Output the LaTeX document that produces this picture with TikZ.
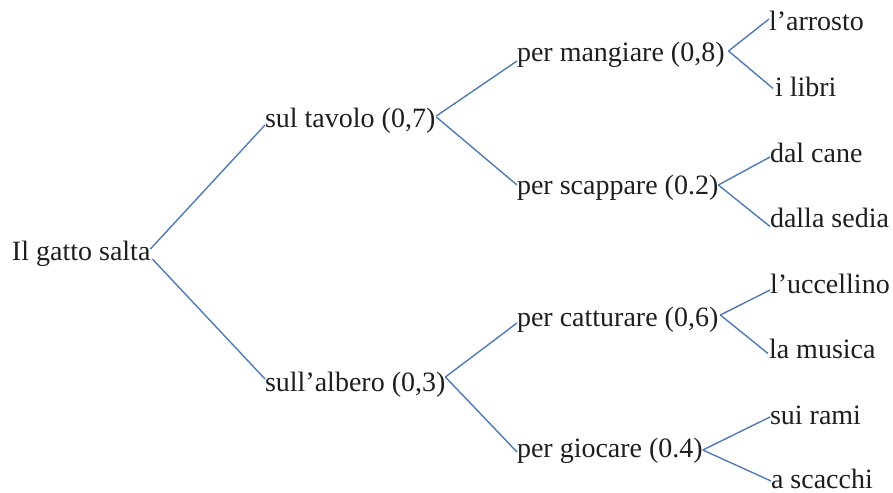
\documentclass[tikz,border=0pt]{standalone}
\usepackage{fontspec}
\setmainfont{Liberation Serif}
\definecolor{linkblue}{RGB}{78,122,184}
\definecolor{txt}{RGB}{30,30,30}
\begin{document}
\begin{tikzpicture}[x=1pt,y=-1pt,
  lbl/.style={anchor=base west,inner sep=0pt,outer sep=0pt,text=txt,font=\fontsize{28}{33}\selectfont},
  link/.style={draw=linkblue,line width=1.4pt}]
\useasboundingbox (0,0) rectangle (893,492);
% nodes
\node[lbl] (root) at (12,260) {Il gatto salta};
\node[lbl] (t) at (265,127) {sul tavolo (0,7)};
\node[lbl] (a) at (265,391) {sull’albero (0,3)};
\node[lbl] (tm) at (517,62) {per mangiare (0,8)};
\node[lbl] (ts) at (517,194) {per scappare (0.2)};
\node[lbl] (ac) at (517,326) {per catturare (0,6)};
\node[lbl] (ag) at (517,457) {per giocare (0.4)};
\node[lbl] (l1) at (769,31) {l’arrosto};
\node[lbl] (l2) at (775,96.5) {i libri};
\node[lbl] (l3) at (770,162) {dal cane};
\node[lbl] (l4) at (770,227.5) {dalla sedia};
\node[lbl] (l5) at (770,293) {l’uccellino};
\node[lbl] (l6) at (769,358.5) {la musica};
\node[lbl] (l7) at (770,424) {sui rami};
\node[lbl] (l8) at (771,488) {a scacchi};
% connectors
\draw[link] ([yshift=11pt]root.base east) -- ([yshift=2pt]t.base west);
\draw[link] ([yshift=1pt,xshift=2pt]root.base east) -- ([yshift=12pt]a.base west);
\draw[link] ([yshift=11pt,xshift=1pt]t.base east) -- ([yshift=1pt]tm.base west);
\draw[link] ([yshift=10pt,xshift=1pt]t.base east) -- ([yshift=9pt]ts.base west);
\draw[link] ([yshift=14pt]a.base east) -- ([yshift=3pt]ac.base west);
\draw[link] ([yshift=14pt]a.base east) -- ([yshift=5pt]ag.base west);
\draw[link] ([yshift=11pt,xshift=4pt]tm.base east) -- ([yshift=12pt]l1.base west);
\draw[link] ([yshift=11pt,xshift=4pt]tm.base east) -- ([yshift=8pt,xshift=-2pt]l2.base west);
\draw[link] ([yshift=9pt]ts.base east) -- ([yshift=5pt]l3.base west);
\draw[link] ([yshift=9pt]ts.base east) -- ([yshift=1pt]l4.base west);
\draw[link] ([yshift=11pt,xshift=2pt]ac.base east) -- ([yshift=3pt]l5.base west);
\draw[link] ([yshift=11pt,xshift=2pt]ac.base east) -- ([yshift=5pt,xshift=-1pt]l6.base west);
\draw[link] ([yshift=7pt]ag.base east) -- ([yshift=7pt]l7.base west);
\draw[link] ([yshift=7pt]ag.base east) -- ([yshift=7pt]l8.base west);
\end{tikzpicture}
\end{document}
